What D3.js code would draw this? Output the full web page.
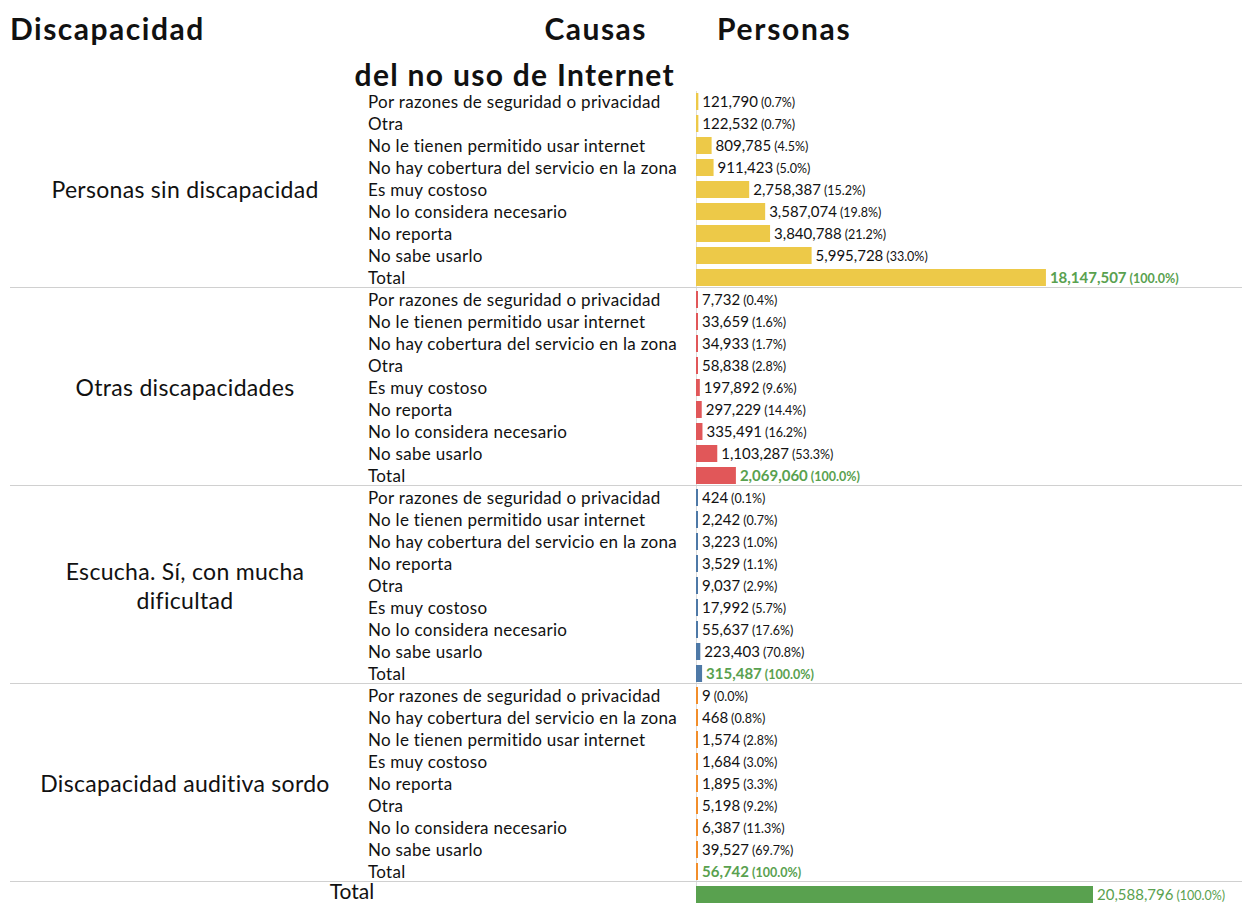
<!DOCTYPE html>
<html>
<head>
<meta charset="utf-8">
<script src="https://cdn.jsdelivr.net/npm/d3@7"></script>
<style>
  body { margin: 0; background: #fff; }
  svg { display: block; font-family: Lato, "Open Sans", sans-serif; }
</style>
</head>
<body>
<div id="chart"></div>
<script>
// Causas del no uso de Internet por tipo de discapacidad

const groups = ["Personas sin discapacidad", "Otras discapacidades", "Escucha. Sí, con mucha dificultad", "Discapacidad auditiva sordo"];
const groupLines = [["Personas sin discapacidad"], ["Otras discapacidades"], ["Escucha. Sí, con mucha", "dificultad"], ["Discapacidad auditiva sordo"]];
const groupColors = ["#EDC948", "#E15759", "#4E79A7", "#F28E2B"];

const causes1 = ["Por razones de seguridad o privacidad", "Otra", "No le tienen permitido usar internet", "No hay cobertura del servicio en la zona", "Es muy costoso", "No lo considera necesario", "No reporta", "No sabe usarlo", "Total"];
const values1 = [121790, 122532, 809785, 911423, 2758387, 3587074, 3840788, 5995728, 18147507];

const causes2 = ["Por razones de seguridad o privacidad", "No le tienen permitido usar internet", "No hay cobertura del servicio en la zona", "Otra", "Es muy costoso", "No reporta", "No lo considera necesario", "No sabe usarlo", "Total"];
const values2 = [7732, 33659, 34933, 58838, 197892, 297229, 335491, 1103287, 2069060];

const causes3 = ["Por razones de seguridad o privacidad", "No le tienen permitido usar internet", "No hay cobertura del servicio en la zona", "No reporta", "Otra", "Es muy costoso", "No lo considera necesario", "No sabe usarlo", "Total"];
const values3 = [424, 2242, 3223, 3529, 9037, 17992, 55637, 223403, 315487];

const causes4 = ["Por razones de seguridad o privacidad", "No hay cobertura del servicio en la zona", "No le tienen permitido usar internet", "Es muy costoso", "No reporta", "Otra", "No lo considera necesario", "No sabe usarlo", "Total"];
const values4 = [9, 468, 1574, 1684, 1895, 5198, 6387, 39527, 56742];

const grandTotal = 20588796;

const causesByGroup = [causes1, causes2, causes3, causes4];
const valuesByGroup = [values1, values2, values3, values4];

const width = 1242, height = 903;
const topY = 91, rowH = 22, groupH = rowH * 9;
const barX = 696;

const svg = d3.select("#chart").append("svg")
  .attr("width", width)
  .attr("height", height);

// x scale for bars
const x = d3.scaleLinear().domain([0, grandTotal]).range([barX, 1093]);
const fmt = d3.format(",");
const pct = d3.format(".1%");
const green = "#59A14F";

// headers
svg.append("text").attr("x", 10).attr("y", 40)
  .attr("font-size", 30).attr("font-weight", 700).attr("fill", "#111")
  .attr("letter-spacing", 1.5)
  .text("Discapacidad");
svg.append("text").attr("x", 647).attr("y", 40).attr("text-anchor", "end")
  .attr("font-size", 30).attr("font-weight", 700).attr("fill", "#111")
  .attr("letter-spacing", 1.5)
  .text("Causas");
svg.append("text").attr("x", 675).attr("y", 86).attr("text-anchor", "end")
  .attr("font-size", 30).attr("font-weight", 700).attr("fill", "#111")
  .attr("letter-spacing", 1.3)
  .text("del no uso de Internet");
svg.append("text").attr("x", 717).attr("y", 40)
  .attr("font-size", 30).attr("font-weight", 700).attr("fill", "#111")
  .attr("letter-spacing", 1.7)
  .text("Personas");

// zero line
svg.append("line")
  .attr("x1", barX + 0.5).attr("x2", barX + 0.5)
  .attr("y1", topY).attr("y2", height)
  .attr("stroke", "#ddd");

groups.forEach((g, gi) => {
  const y0 = topY + gi * groupH;
  const causes = causesByGroup[gi];
  const values = valuesByGroup[gi];
  const total = values[values.length - 1];
  const rows = causes.map((c, i) => ({ cause: c, value: values[i], i }));

  const gEl = svg.append("g");

  // group label
  const lines = groupLines[gi];
  const gt = gEl.append("text")
    .attr("text-anchor", "middle")
    .attr("font-size", 23)
    .attr("letter-spacing", 0.3)
    .attr("fill", "#111");
  lines.forEach((ln, li) => {
    gt.append("tspan")
      .attr("x", 185)
      .attr("y", y0 + groupH / 2 + 8 + (li - (lines.length - 1) / 2) * 29)
      .text(ln);
  });

  // cause labels
  gEl.selectAll("text.cause").data(rows).enter().append("text")
    .attr("class", "cause")
    .attr("x", 368)
    .attr("y", d => y0 + 11 + d.i * rowH + 6)
    .attr("font-size", 17)
    .attr("letter-spacing", 0.3)
    .attr("fill", "#111")
    .text(d => d.cause);

  // bars
  gEl.selectAll("rect").data(rows).enter().append("rect")
    .attr("x", barX)
    .attr("y", d => y0 + 2 + d.i * rowH)
    .attr("width", d => Math.max(2, x(d.value) - barX))
    .attr("height", 17)
    .attr("fill", groupColors[gi]);

  // value labels
  const lab = gEl.selectAll("text.val").data(rows).enter().append("text")
    .attr("class", "val")
    .attr("x", d => Math.max(barX + 2, x(d.value)) + 4)
    .attr("y", d => y0 + 11 + d.i * rowH + 5)
    .attr("fill", d => d.cause === "Total" ? green : "#111")
    .attr("font-weight", d => d.cause === "Total" ? 700 : 400);
  lab.append("tspan").attr("font-size", 15).text(d => fmt(d.value));
  lab.append("tspan").attr("font-size", 12.5).attr("dx", 3).text(d => "(" + pct(d.value / total) + ")");

  // separator
  svg.append("line")
    .attr("x1", 10).attr("x2", width)
    .attr("y1", y0 + groupH - 1.5).attr("y2", y0 + groupH - 1.5)
    .attr("stroke", "#d0d0d0");
});

// grand total
const yT = topY + 4 * groupH;
svg.append("text")
  .attr("x", 352).attr("y", yT + 16)
  .attr("text-anchor", "middle")
  .attr("font-size", 21).attr("fill", "#111")
  .text("Total");
svg.append("rect")
  .attr("x", barX).attr("y", yT + 3)
  .attr("width", x(grandTotal) - barX)
  .attr("height", 20)
  .attr("fill", green);
const tl = svg.append("text")
  .attr("x", x(grandTotal) + 4).attr("y", yT + 17)
  .attr("fill", green);
tl.append("tspan").attr("font-size", 15).text(fmt(grandTotal));
tl.append("tspan").attr("font-size", 12.5).attr("dx", 3).text("(" + pct(1) + ")");
</script>
</body>
</html>
